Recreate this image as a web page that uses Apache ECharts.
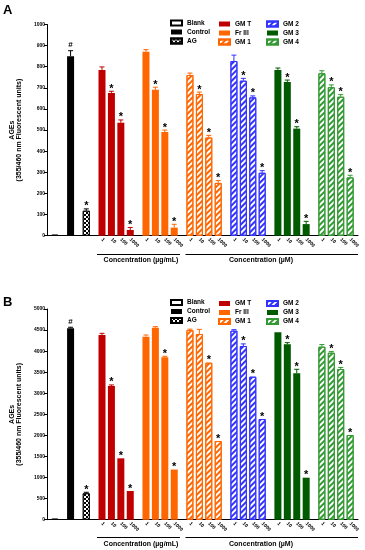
<!DOCTYPE html>
<html><head><meta charset="utf-8">
<script src="https://cdn.jsdelivr.net/npm/echarts@6/dist/echarts.min.js"></script>
<style>html,body{margin:0;padding:0;background:#fff}#c{width:365px;height:550px}</style>
</head><body><div id="c"></div>
<script>
// ---------------- DATA ----------------
const seriesNames = ['Blank','Control','AG','GM T','Fr III','GM 1','GM 2','GM 3','GM 4'];
const doseLabels = ['1','10','100','1000'];

// Panel A (AGEs, 0-1000)
const aBlank = [5], aControl = [850], aAG = [118];
const aGMT  = [785, 676, 535, 27];
const aFrIII= [871, 691, 491, 38];
const aGM1  = [761, 671, 465, 250];
const aGM2  = [827, 734, 655, 298];
const aGM3  = [785, 728, 507, 55];
const aGM4  = [769, 703, 658, 276];
const aBlankErr = [0], aControlErr = [26], aAGErr = [9];
const aGMTErr  = [14, 8, 13, 12];
const aFrIIIErr= [10, 12, 9, 16];
const aGM1Err  = [9, 9, 10, 11];
const aGM2Err  = [28, 11, 7, 10];
const aGM3Err  = [9, 9, 9, 13];
const aGM4Err  = [12, 11, 10, 10];
const aBlankMark = [''], aControlMark = ['#'], aAGMark = ['*'];
const aGMTMark  = ['', '*', '*', '*'];
const aFrIIIMark= ['', '*', '*', '*'];
const aGM1Mark  = ['', '*', '*', '*'];
const aGM2Mark  = ['', '*', '*', '*'];
const aGM3Mark  = ['', '*', '*', '*'];
const aGM4Mark  = ['', '*', '*', '*'];

// Panel B (AGEs, 0-5000)
const bBlank = [25], bControl = [4542], bAG = [626];
const bGMT  = [4383, 3173, 1457, 681];
const bFrIII= [4343, 4556, 3853, 1190];
const bGM1  = [4502, 4407, 3726, 1868];
const bGM2  = [4485, 4122, 3394, 2390];
const bGM3  = [4447, 4162, 3474, 997];
const bGM4  = [4106, 3963, 3576, 2010];
const bBlankErr = [0], bControlErr = [25], bAGErr = [25];
const bGMTErr  = [40, 25, 0, 0];
const bFrIIIErr= [40, 25, 25, 0];
const bGM1Err  = [20, 110, 0, 0];
const bGM2Err  = [25, 50, 0, 0];
const bGM3Err  = [0, 40, 95, 0];
const bGM4Err  = [50, 30, 35, 0];
const bBlankMark = [''], bControlMark = ['#'], bAGMark = ['*'];
const bGMTMark  = ['', '*', '*', '*'];
const bFrIIIMark= ['', '', '*', '*'];
const bGM1Mark  = ['', '', '*', '*'];
const bGM2Mark  = ['', '*', '*', '*'];
const bGM3Mark  = ['', '*', '*', '*'];
const bGM4Mark  = ['', '*', '*', '*'];

// ---------------- STYLE ----------------
const FONT = '"Liberation Sans", Arial, sans-serif';
const C = { gmt:'#c00000', fr:'#ff6600', blue:'#3333ff', dg:'#005a00', lg:'#339933' };
function hatch(col){
  return { color:'#ffffff', borderColor:col, borderWidth:1,
    decal:{ symbol:'rect', symbolSize:1, color:col, dashArrayX:[1,0], dashArrayY:[1.2,1.8], rotation:-Math.PI/4 } };
}
const styles = {
  'Blank':  { color:'#ffffff', borderColor:'#000', borderWidth:1 },
  'Control':{ color:'#000000' },
  'AG':     { color:'#ffffff', borderColor:'#000', borderWidth:0.8,
              decal:{ symbol:'rect', symbolSize:1, color:'#000', dashArrayX:[[1.5,1.5],[0,1.5,1.5,0]], dashArrayY:[1.5,0], rotation:0 } },
  'GM T':   { color:C.gmt },
  'Fr III': { color:C.fr },
  'GM 1':   hatch(C.fr),
  'GM 2':   hatch(C.blue),
  'GM 3':   { color:C.dg },
  'GM 4':   hatch(C.lg)
};
const errColor = { 'Blank':'#000','Control':'#000','AG':'#000','GM T':C.gmt,'Fr III':C.fr,'GM 1':C.fr,'GM 2':C.blue,'GM 3':C.dg,'GM 4':C.lg };

// slot layout on a fine category axis
const NCAT = 99;
function slotsFor(idx){
  if (idx < 3) return [2 + 5*idx];
  const s = 17 + 14*(idx-3);
  return [s, s+3, s+6, s+9];
}
const catData = Array.from({length:NCAT}, (_, i) => String(i));
const catLabel = {};
for (let k = 3; k < 9; k++) slotsFor(k).forEach((s, i) => { catLabel[s] = doseLabels[i]; });

const panels = [
  { means:[aBlank,aControl,aAG,aGMT,aFrIII,aGM1,aGM2,aGM3,aGM4],
    errs:[aBlankErr,aControlErr,aAGErr,aGMTErr,aFrIIIErr,aGM1Err,aGM2Err,aGM3Err,aGM4Err],
    marks:[aBlankMark,aControlMark,aAGMark,aGMTMark,aFrIIIMark,aGM1Mark,aGM2Mark,aGM3Mark,aGM4Mark] },
  { means:[bBlank,bControl,bAG,bGMT,bFrIII,bGM1,bGM2,bGM3,bGM4],
    errs:[bBlankErr,bControlErr,bAGErr,bGMTErr,bFrIIIErr,bGM1Err,bGM2Err,bGM3Err,bGM4Err],
    marks:[bBlankMark,bControlMark,bAGMark,bGMTMark,bFrIIIMark,bGM1Mark,bGM2Mark,bGM3Mark,bGM4Mark] }
];

const series = [];
panels.forEach((P, p) => {
  const errList = [];
  seriesNames.forEach((name, k) => {
    const slots = slotsFor(k);
    series.push({
      type:'bar', name, xAxisIndex:p, yAxisIndex:p, barWidth:7, barGap:'-100%', barMinHeight:1,
      data: P.means[k].map((v, i) => [slots[i], v]),
      itemStyle: styles[name], emphasis:{disabled:true}, silent:true
    });
    P.means[k].forEach((v, i) => errList.push([slots[i], v, P.errs[k][i], P.marks[k][i], errColor[name]]));
  });
  series.push({
    type:'custom', name:'err'+p, xAxisIndex:p, yAxisIndex:p, silent:true, z:5,
    data: errList.map(r => [r[0], r[1], r[2]]),
    renderItem(params, api){
      const rec = errList[params.dataIndex];
      const x = api.value(0), m = api.value(1), e = api.value(2);
      const p0 = api.coord([x, m]), p1 = api.coord([x, m + e]);
      const ch = [];
      if (e > 0) {
        ch.push({type:'line', shape:{x1:p0[0], y1:p0[1], x2:p1[0], y2:p1[1]}, style:{stroke:rec[4], lineWidth:1}});
        ch.push({type:'line', shape:{x1:p1[0]-2.5, y1:p1[1], x2:p1[0]+2.5, y2:p1[1]}, style:{stroke:rec[4], lineWidth:1}});
      }
      if (rec[3] === '*') ch.push({type:'text', x:p1[0], y:p1[1]+3, style:{text:'*', fill:'#000', font:'bold 11px '+FONT, align:'center', verticalAlign:'bottom'}});
      if (rec[3] === '#') ch.push({type:'text', x:p1[0], y:p1[1]-1.5, style:{text:'#', fill:'#000', font:'bold 8px '+FONT, align:'center', verticalAlign:'bottom'}});
      return {type:'group', children:ch};
    }
  });
});

const grids = [
  { left:45, width:313, top:24.5, height:211.2 },
  { left:45, width:313, top:309, height:210.7 }
];
const yMax = [1000, 5000], yInt = [100, 500];

function xAxis(i){
  return { type:'category', gridIndex:i, data:catData, boundaryGap:true,
    axisLine:{ lineStyle:{ color:'#000', width:1 } }, axisTick:{ show:false },
    axisLabel:{ interval:0, rotate:-45, margin:3, fontSize:5, fontWeight:'bold', color:'#000', fontFamily:FONT,
      formatter:(v) => catLabel[+v] || '' } };
}
function yAxis(i){
  return { type:'value', gridIndex:i, min:0, max:yMax[i], interval:yInt[i],
    name:'AGEs\n(355/460 nm Fluorescent units)', nameLocation:'middle', nameGap:21, nameRotate:90,
    nameTextStyle:{ fontSize:7, fontWeight:'bold', color:'#000', fontFamily:FONT, lineHeight:7.5 },
    axisLine:{ show:true, lineStyle:{ color:'#000', width:1 } },
    axisTick:{ show:true, inside:false, length:3, lineStyle:{ color:'#000' } },
    splitLine:{ show:false },
    axisLabel:{ fontSize:5, fontWeight:'bold', color:'#000', margin:2, fontFamily:FONT, formatter:(v) => String(v) } };
}
function legends(top){
  const base = { orient:'vertical', itemWidth:11, itemHeight:5, itemGap:0, icon:'rect', selectedMode:false,
    textStyle:{ fontSize:6.5, fontWeight:'bold', color:'#000', fontFamily:FONT, lineHeight:9 }, padding:0 };
  return [
    Object.assign({}, base, { data:['Blank','Control','AG'], left:170, top:top }),
    Object.assign({}, base, { data:['GM T','Fr III','GM 1'], left:218, top:top+1 }),
    Object.assign({}, base, { data:['GM 2','GM 3','GM 4'], left:266, top:top+1 })
  ];
}
function concText(x, y, t){
  return { type:'text', x, y, style:{ text:t, font:'bold 7px '+FONT, fill:'#000', align:'center', verticalAlign:'middle' } };
}
function hline(x1, x2, y){
  return { type:'line', shape:{ x1, y1:y, x2, y2:y }, style:{ stroke:'#000', lineWidth:1 } };
}

const option = {
  animation:false,
  backgroundColor:'#fff',
  grid: grids,
  xAxis: [xAxis(0), xAxis(1)],
  yAxis: [yAxis(0), yAxis(1)],
  legend: legends(18.5).concat(legends(298)),
  series,
  graphic: [
    { type:'text', x:3, y:4, style:{ text:'A', font:'bold 13px '+FONT, fill:'#000' } },
    { type:'text', x:3, y:296, style:{ text:'B', font:'bold 13px '+FONT, fill:'#000' } },
    hline(97, 180, 254.5), concText(141, 260.5, 'Concentration (µg/mL)'),
    hline(185.5, 358, 254.5), concText(261, 260.5, 'Concentration (µM)'),
    hline(97, 180, 537.5), concText(141, 544, 'Concentration (µg/mL)'),
    hline(185.5, 358, 537.5), concText(261, 544, 'Concentration (µM)')
  ]
};
const chart = echarts.init(document.getElementById('c'));
chart.setOption(option);
</script></body></html>
